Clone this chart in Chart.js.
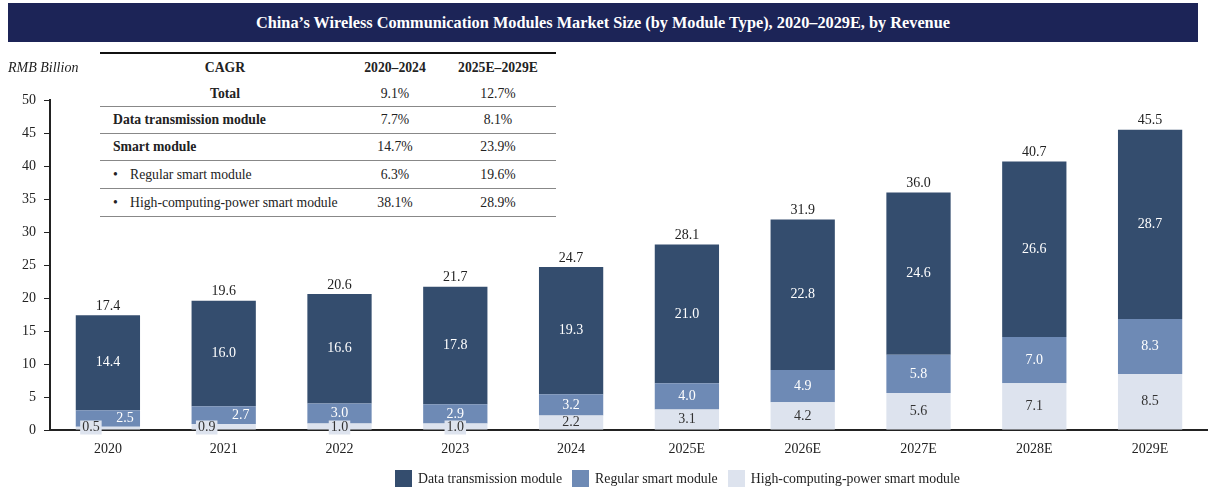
<!DOCTYPE html>
<html>
<head>
<meta charset="utf-8">
<script src="https://cdn.jsdelivr.net/npm/chart.js@4.4.1/dist/chart.umd.min.js"></script>
<style>
  body { margin: 0; background: #fff; font-family: "Liberation Serif", "Times New Roman", serif; }
  #wrap { position: relative; width: 1208px; height: 491px; overflow: hidden; }
  #myChart { position: absolute; left: 0; top: 0; }
  #banner {
    position: absolute; left: 8px; top: 3px; width: 1190px; height: 39px;
    background: #1c2457; color: #fff; font-weight: bold; font-size: 16.3px;
    line-height: 39px; text-align: center;
  }
  #unit { position: absolute; left: 8px; top: 60px; font-size: 14px; font-style: italic; color: #222; }
  #cagr {
    position: absolute; left: 100px; top: 52px; width: 456px;
    border-collapse: collapse; font-size: 13.7px; color: #222; background: #fff;
    border-top: 2px solid #111;
  }
  #cagr td { padding: 0; height: 26px; border-bottom: 1px solid #888; }
  #cagr tr.hd td { height: 28px; font-weight: bold; border-bottom: none; text-align: center; }
  #cagr tr.tot td { height: 24px; }
  #cagr td.n { text-align: center; }
  #cagr td.l { padding-left: 13px; }
  #cagr td.b { font-weight: bold; }
  #cagr span.dot { display: inline-block; width: 17px; }
  #legend { position: absolute; top: 470px; left: 395px; font-size: 13.8px; color: #222; white-space: nowrap; }
  #legend .it { display: inline-block; margin-right: 10px; }
  #legend .sw { display: inline-block; width: 17px; height: 17px; vertical-align: -4px; margin-right: 6px; }
</style>
</head>
<body>
<div id="wrap">
  <canvas id="myChart" width="1208" height="491"></canvas>
  <div id="banner">China’s Wireless Communication Modules Market Size (by Module Type), 2020–2029E, by Revenue</div>
  <div id="unit">RMB Billion</div>
  <table id="cagr">
    <tr class="hd"><td style="width:250px">CAGR</td><td style="width:90px">2020–2024</td><td>2025E–2029E</td></tr>
    <tr class="tot"><td class="n b" style="border-bottom:1px solid #888">Total</td><td class="n">9.1%</td><td class="n">12.7%</td></tr>
    <tr><td class="l b">Data transmission module</td><td class="n">7.7%</td><td class="n">8.1%</td></tr>
    <tr><td class="l b">Smart module</td><td class="n">14.7%</td><td class="n">23.9%</td></tr>
    <tr><td class="l" style="height:27px"><span class="dot">•</span>Regular smart module</td><td class="n">6.3%</td><td class="n">19.6%</td></tr>
    <tr><td class="l" style="height:27px"><span class="dot">•</span>High-computing-power smart module</td><td class="n">38.1%</td><td class="n">28.9%</td></tr>
  </table>
  <div id="legend"></div>
</div>
<script>
const years = ["2020", "2021", "2022", "2023", "2024", "2025E", "2026E", "2027E", "2028E", "2029E"];
const dataTransmission = [14.4, 16.0, 16.6, 17.8, 19.3, 21.0, 22.8, 24.6, 26.6, 28.7];
const regularSmart = [2.5, 2.7, 3.0, 2.9, 3.2, 4.0, 4.9, 5.8, 7.0, 8.3];
const highComputing = [0.5, 0.9, 1.0, 1.0, 2.2, 3.1, 4.2, 5.6, 7.1, 8.5];
const totals = [17.4, 19.6, 20.6, 21.7, 24.7, 28.1, 31.9, 36.0, 40.7, 45.5];
const yTicks = [0, 5, 10, 15, 20, 25, 30, 35, 40, 45, 50];

const darkBlue = "#344d6e";
const midBlue = "#6e8ab5";
const lightBlue = "#dde3ee";
const FONT = "14px 'Liberation Serif', 'Times New Roman', serif";

// labels inside the segments + totals on top
const valueLabels = {
  id: "valueLabels",
  afterDatasetsDraw(chart) {
    const ctx = chart.ctx;
    ctx.save();
    ctx.font = FONT;
    ctx.textBaseline = "middle";
    ctx.textAlign = "center";
    const high = chart.getDatasetMeta(0).data;
    const reg = chart.getDatasetMeta(1).data;
    const dat = chart.getDatasetMeta(2).data;

    for (let i = 0; i < years.length; i++) {
      const h = high[i], r = reg[i], d = dat[i];
      const regH = Math.abs(r.base - r.y);
      const highH = Math.abs(h.base - h.y);
      const squeezed = regH < 18.5;

      // data transmission
      ctx.fillStyle = "#fff";
      ctx.fillText(dataTransmission[i].toFixed(1), d.x, (d.y + d.base) / 2);

      // regular smart
      ctx.fillText(regularSmart[i].toFixed(1), squeezed ? r.x + 17 : r.x, (r.y + r.base) / 2);

      // high computing
      const txt = highComputing[i].toFixed(1);
      if (highH < 14) {
        const x = squeezed ? h.x - 17 : h.x;
        const y = h.base - 2;
        const w = ctx.measureText(txt).width + 4;
        ctx.fillStyle = lightBlue;
        ctx.fillRect(x - w / 2, y - 7, w, 14);
        ctx.fillStyle = "#333";
        ctx.fillText(txt, x, y);
      } else {
        ctx.fillStyle = "#333";
        ctx.fillText(txt, h.x, (h.y + h.base) / 2);
      }

      // total
      ctx.fillStyle = "#222";
      ctx.fillText(totals[i].toFixed(1), d.x, d.y - 9);
    }
    ctx.restore();
  }
};

const ctx = document.getElementById("myChart");
const chart = new Chart(ctx, {
  type: "bar",
  data: {
    labels: years,
    datasets: [
      { label: "High-computing-power smart module", data: highComputing, backgroundColor: lightBlue },
      { label: "Regular smart module", data: regularSmart, backgroundColor: midBlue },
      { label: "Data transmission module", data: dataTransmission, backgroundColor: darkBlue },
    ],
  },
  options: {
    responsive: false,
    animation: false,
    layout: { padding: { top: 100, right: 0, left: 0, bottom: 0 } },
    datasets: { bar: { categoryPercentage: 1, barPercentage: 0.555 } },
    plugins: { legend: { display: false }, tooltip: { enabled: false } },
    scales: {
      x: {
        stacked: true,
        grid: { display: false },
        border: { color: "#222", width: 2 },
        ticks: { color: "#222", font: { family: "'Liberation Serif', serif", size: 14 }, padding: 3 },
        afterFit: (s) => { s.height = 61; },
      },
      y: {
        stacked: true,
        min: 0,
        max: 50,
        afterBuildTicks: (s) => { s.ticks = yTicks.map(v => ({ value: v })); },
        grid: { drawOnChartArea: false, drawTicks: true, tickLength: 6, color: "#222", lineWidth: 1 },
        border: { color: "#222", width: 2 },
        ticks: { color: "#222", font: { family: "'Liberation Serif', serif", size: 14 }, padding: 8 },
        afterFit: (s) => { s.width = 50; },
      },
    },
  },
  plugins: [valueLabels],
});

// legend in the same order as the reference
const legend = document.getElementById("legend");
chart.data.datasets.slice().reverse().forEach(ds => {
  const it = document.createElement("span");
  it.className = "it";
  it.innerHTML = '<span class="sw" style="background:' + ds.backgroundColor + '"></span>' + ds.label;
  legend.appendChild(it);
});
</script>
</body>
</html>
